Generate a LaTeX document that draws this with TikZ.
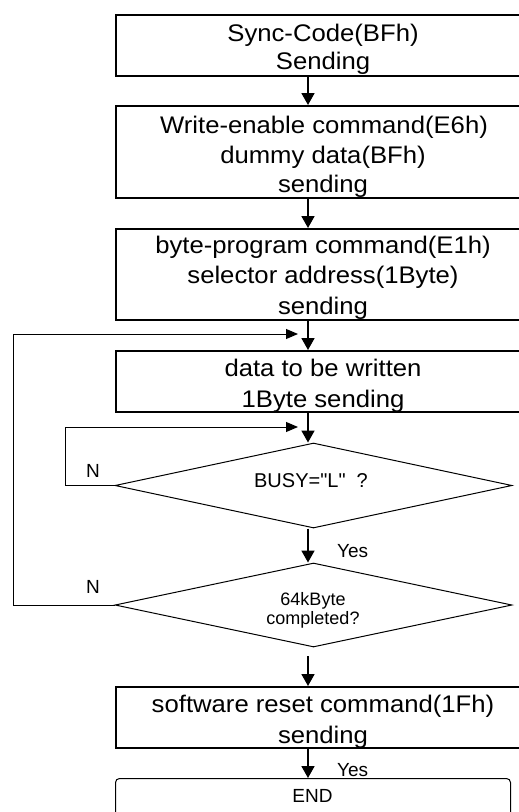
\documentclass[tikz,border=0pt]{standalone}
\usepackage{fontspec}
\setmainfont{Liberation Sans}
\newfontfamily\boxfont[FakeStretch=1.07]{Liberation Sans}
\newfontfamily\plainfont{Liberation Sans}
\usetikzlibrary{arrows.meta,shapes.geometric}
\begin{document}
\begin{tikzpicture}[x=1pt,y=-1pt,
  stepbox/.style={draw,line width=2.2pt,anchor=north west,minimum width=414pt,inner sep=0pt},
  endbox/.style={draw,line width=1pt,rounded corners=4pt,anchor=north west,minimum width=395pt,inner sep=0pt},
  dec/.style={draw,diamond,line width=1pt,minimum width=397pt,minimum height=85pt,inner sep=0pt},
  btxt/.style={anchor=base,font=\boxfont\fontsize{24}{28}\selectfont,inner sep=0pt},
  lbl/.style={anchor=base,inner sep=0pt,font=\fontsize{19}{22}\selectfont},
  arr/.style={line width=1.8pt,-{Triangle[length=12pt,width=13pt]}},
  loopln/.style={line width=1pt,-{Triangle[length=12pt,width=10pt]}}
]
\useasboundingbox (0,0) rectangle (519,812);
\clip (0,0) rectangle (519,812);
% boxes
\node[stepbox,minimum height=61pt] (b1) at (115,14) {};
\node[stepbox,minimum height=92pt] (b2) at (115,105) {};
\node[stepbox,minimum height=91pt] (b3) at (115,228) {};
\node[stepbox,minimum height=61pt] (b4) at (115,350) {};
\node[dec,minimum height=85pt] (d1) at (313.5,485.5) {};
\node[dec,minimum height=84pt] (d2) at (313.5,605) {};
\node[stepbox,minimum height=61pt] (b5) at (115,686) {};
\node[endbox,minimum height=50pt] (e) at (115,778) {};
% texts
\node[btxt] (t1a) at (323,41) {Sync-Code(BFh)};
\node[btxt] (t1b) at (323,69) {Sending};
\node[btxt] (t2a) at (324,133) {Write-enable command(E6h)};
\node[btxt] (t2b) at (323,163) {dummy data(BFh)};
\node[btxt] (t2c) at (323,192) {sending};
\node[btxt] (t3a) at (323,253) {byte-program command(E1h)};
\node[btxt] (t3b) at (323,283) {selector address(1Byte)};
\node[btxt] (t3c) at (323,314) {sending};
\node[btxt] (t4a) at (323,376) {data to be written};
\node[btxt] (t4b) at (323,407) {1Byte sending};
\node[btxt] (t5a) at (323,712) {software reset command(1Fh)};
\node[btxt] (t5b) at (323,743) {sending};
\node[lbl,font=\plainfont\fontsize{20}{24}\selectfont] (q1) at (311,487) {BUSY="L"~~?};
\node[lbl,font=\fontsize{18}{20}\selectfont] (q2a) at (313,605) {64kByte};
\node[lbl,font=\fontsize{18}{20}\selectfont] (q2b) at (313,624) {completed?};
\node[lbl] (et) at (312.5,802) {END};
\node[lbl,anchor=base west] (y1) at (337,557) {Yes};
\node[lbl,anchor=base west] (y2) at (337,776) {Yes};
\node[lbl,font=\fontsize{19}{20}\selectfont] (n1) at (93,477) {N};
\node[lbl,font=\fontsize{19}{20}\selectfont] (n2) at (93,593) {N};
% coordinates
\coordinate (ax) at (308,0);
\coordinate (s6) at (308,656);
\coordinate (j1) at (298,334);
\coordinate (j2) at (298,427);
\coordinate (c1) at (13,334);
\coordinate (c2) at (65,427);
% arrows
\draw[arr] (b1.south -| ax) -- (b2.north -| ax);
\draw[arr] (b2.south -| ax) -- (b3.north -| ax);
\draw[arr] (b3.south -| ax) -- (b4.north -| ax);
\draw[arr] (b4.south -| ax) -- (d1.north -| ax);
\draw[arr] (d1.south -| ax) -- (d2.north -| ax);
\draw[arr] (s6) -- (b5.north -| ax);
\draw[arr] (b5.south -| ax) -- (e.north -| ax);
\draw[loopln] (d1.west) -- (d1.west -| c2) -- (c2) -- (j2);
\draw[loopln] (d2.west) -- (d2.west -| c1) -- (c1) -- (j1);
\end{tikzpicture}
\end{document}
